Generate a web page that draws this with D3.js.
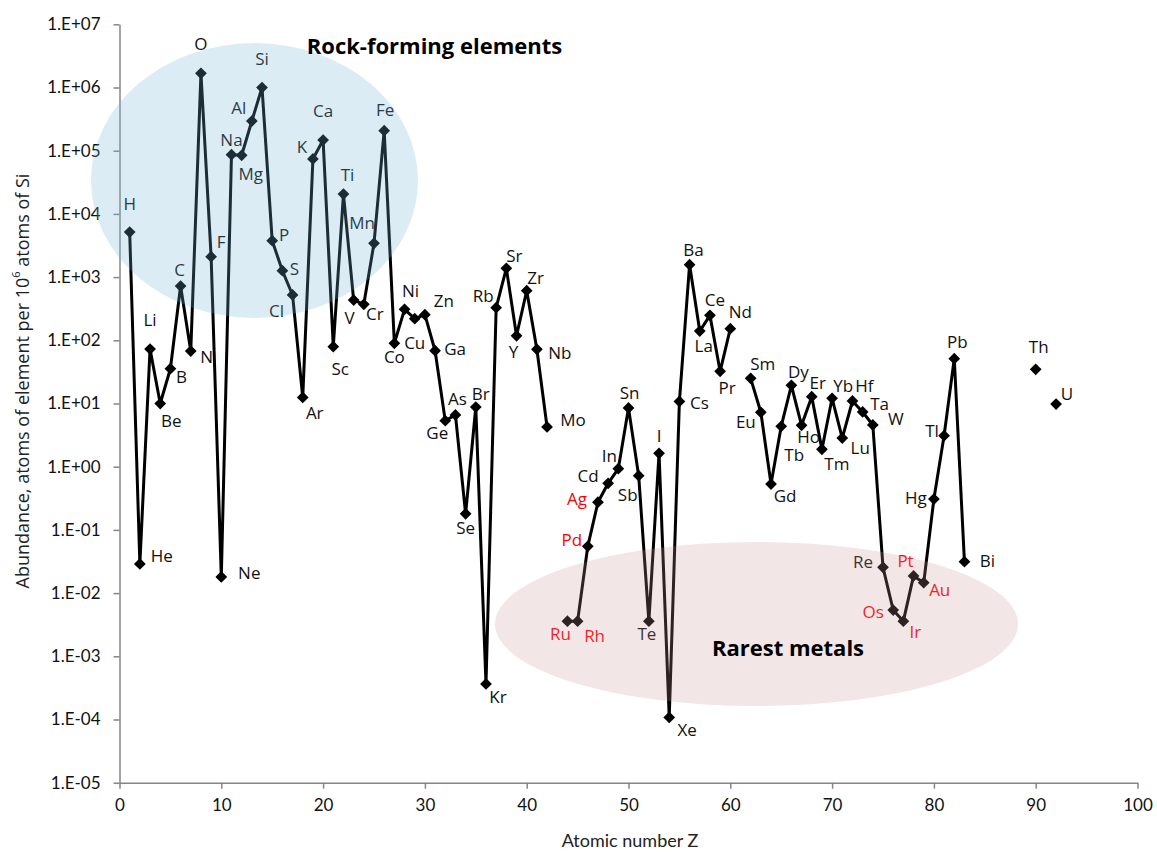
<!DOCTYPE html>
<html>
<head>
<meta charset="utf-8">
<script src="https://cdn.jsdelivr.net/npm/d3@7"></script>
<style>
  html, body { margin: 0; padding: 0; background: #fff; }
  svg { display: block; }
</style>
</head>
<body>
<svg id="chart" width="1157" height="852"></svg>
<script>
// Abundance of the elements in the upper continental crust, atoms per 10^6 atoms of Si
const atomicNumber = [
  1, 2, 3, 4, 5, 6, 7, 8, 9, 10,
  11, 12, 13, 14, 15, 16, 17, 18, 19, 20,
  21, 22, 23, 24, 25, 26, 27, 28, 29, 30,
  31, 32, 33, 34, 35, 36, 37, 38, 39, 40,
  41, 42, 44, 45, 46, 47, 48, 49, 50,
  51, 52, 53, 54, 55, 56, 57, 58, 59, 60,
  62, 63, 64, 65, 66, 67, 68, 69, 70,
  71, 72, 73, 74, 75, 76, 77, 78, 79, 80,
  81, 82, 83, 90, 92
];
const symbol = [
  "H", "He", "Li", "Be", "B", "C", "N", "O", "F", "Ne",
  "Na", "Mg", "Al", "Si", "P", "S", "Cl", "Ar", "K", "Ca",
  "Sc", "Ti", "V", "Cr", "Mn", "Fe", "Co", "Ni", "Cu", "Zn",
  "Ga", "Ge", "As", "Se", "Br", "Kr", "Rb", "Sr", "Y", "Zr",
  "Nb", "Mo", "Ru", "Rh", "Pd", "Ag", "Cd", "In", "Sn",
  "Sb", "Te", "I", "Xe", "Cs", "Ba", "La", "Ce", "Pr", "Nd",
  "Sm", "Eu", "Gd", "Tb", "Dy", "Ho", "Er", "Tm", "Yb",
  "Lu", "Hf", "Ta", "W", "Re", "Os", "Ir", "Pt", "Au", "Hg",
  "Tl", "Pb", "Bi", "Th", "U"
];
const abundance = [
  5170, 0.029, 72.8, 10.0, 35.5, 722, 67.7, 1.68e6, 2100, 0.018,
  86500, 84600, 295000, 1.0e6, 3770, 1262, 521, 12.5, 74000, 147600,
  79.2, 20600, 434, 371, 3430, 207000, 89.6, 309, 220, 254,
  68.4, 5.35, 6.58, 0.18, 8.8, 3.65e-4, 328, 1377, 118, 609,
  72, 4.25, 0.0036, 0.0036, 0.055, 0.274, 0.546, 0.93, 8.5,
  0.72, 0.0036, 1.63, 1.08e-4, 10.8, 1570, 140, 248, 32.3, 153,
  25, 7.26, 0.532, 4.36, 19.4, 4.52, 12.8, 1.88, 12.1,
  2.84, 10.96, 7.34, 4.57, 0.0256, 0.0054, 0.0036, 0.0187, 0.0146, 0.308,
  3.09, 51.2, 0.0314, 34.8, 9.8
];

// Elements whose labels are highlighted as the rarest metals
const preciousMetals = ["Ru", "Rh", "Pd", "Ag", "Os", "Ir", "Pt", "Au"];

const xTicks = [0, 10, 20, 30, 40, 50, 60, 70, 80, 90, 100];
const yTicks = [1e-5, 1e-4, 1e-3, 1e-2, 1e-1, 1e0, 1e1, 1e2, 1e3, 1e4, 1e5, 1e6, 1e7];

// Label placement: offset of the label centre from its marker, in pixels
const labelOffset = {
  H: [0, -29], He: [22, -8], Li: [0, -30], Be: [11, 17], B: [11, 8],
  C: [-1, -17], N: [16, 5], O: [0, -30], F: [10, -15], Ne: [28, -4],
  Na: [0, -15], Mg: [9, 18], Al: [-13, -14], Si: [0, -29], P: [12, -6],
  S: [12, -2], Cl: [-16, 16], Ar: [12, 15], K: [-11, -12], Ca: [0, -30],
  Sc: [7, 22], Ti: [4, -20], V: [-4, 17], Cr: [11, 9], Mn: [-12, -21],
  Fe: [1, -21], Co: [0, 13], Ni: [6, -19], Cu: [0, 24], Zn: [19, -14],
  Ga: [20, -2], Ge: [-8, 12], As: [2, -16], Se: [0, 14], Br: [5, -14],
  Kr: [12, 13], Rb: [-13, -12], Sr: [8, -13], Y: [-3, 16], Zr: [9, -13],
  Nb: [23, 3], Mo: [26, -7], Ru: [-7, 12], Rh: [17, 14], Pd: [-16, -7],
  Ag: [-21, -4], Cd: [-20, -8], In: [-9, -13], Sn: [1, -15], Sb: [-11, 19],
  Te: [-2, 12], I: [0, -18], Xe: [18, 12], Cs: [20, 1], Ba: [4, -15],
  La: [4, 14], Ce: [5, -16], Pr: [7, 16], Nd: [10, -17], Sm: [12, -15],
  Eu: [-15, 9], Gd: [14, 11], Tb: [13, 28], Dy: [7, -14], Ho: [7, 11],
  Er: [6, -14], Tm: [15, 14], Yb: [11, -13], Lu: [18, 9], Hf: [12, -15],
  Ta: [17, -8], W: [23, -6], Re: [-20, -6], Os: [-20, 1], Ir: [12, 10],
  Pt: [-8, -15], Au: [16, 7], Hg: [-18, -2], Tl: [-12, -5], Pb: [3, -17],
  Bi: [23, -1], Th: [3, -23], U: [11, -11]
};

const elements = atomicNumber.map((z, i) => ({ z, sym: symbol[i], v: abundance[i] }));

const svg = d3.select("#chart");
const W = 1157, H = 852;
const margin = { left: 119.5, right: W - 1137.5, top: 24.3, bottom: H - 782.7 };

const x = d3.scaleLinear().domain([0, 100]).range([margin.left, W - margin.right]);
const y = d3.scaleLog().domain([1e-5, 1e7]).range([H - margin.bottom, margin.top]);

const axisColor = "#868686";
const tickFont = "Lato, 'Open Sans', sans-serif";
const labelFont = "'Open Sans', 'Noto Sans', sans-serif";

// Axes
const yAxis = d3.axisLeft(y)
  .tickValues(yTicks)
  .tickSize(6)
  .tickSizeOuter(0)
  .tickFormat(d => {
    const e = Math.round(Math.log10(d));
    return "1.E" + (e < 0 ? "-" : "+") + String(Math.abs(e)).padStart(2, "0");
  });
const gy = svg.append("g").attr("transform", `translate(${margin.left},0)`).call(yAxis);

const xAxis = d3.axisBottom(x).tickValues(xTicks).tickSize(6).tickSizeOuter(0).tickFormat(d3.format("d"));
const gx = svg.append("g").attr("transform", `translate(0,${H - margin.bottom})`).call(xAxis);

[gx, gy].forEach(g => {
  g.select(".domain").attr("stroke", axisColor).attr("stroke-width", 1.5);
  g.selectAll(".tick line").attr("stroke", axisColor).attr("stroke-width", 1.5);
  g.selectAll(".tick text")
    .attr("fill", "#111")
    .style("font-family", tickFont)
    .style("font-size", "17px");
});
gy.selectAll(".tick text").attr("x", -19);
gx.selectAll(".tick text").attr("y", 16);

// Axis titles
svg.append("text")
  .attr("x", 630)
  .attr("y", 840)
  .attr("text-anchor", "middle")
  .attr("dominant-baseline", "central")
  .style("font-family", tickFont)
  .style("font-size", "18px")
  .attr("fill", "#222")
  .text("Atomic number Z");

const yTitle = svg.append("text")
  .attr("transform", "translate(22,381) rotate(-90)")
  .attr("text-anchor", "middle")
  .attr("dominant-baseline", "central")
  .style("font-family", labelFont)
  .style("font-size", "18px")
  .attr("fill", "#222");
yTitle.append("tspan").text("Abundance, atoms of element per 10");
yTitle.append("tspan").attr("dy", -7).style("font-size", "11px").text("6");
yTitle.append("tspan").attr("dy", 7).text(" atoms of Si");

// Split the series into runs of consecutive atomic numbers (gaps at Tc, Pm and after Bi)
const runs = [];
elements.forEach((d, i) => {
  if (i === 0 || d.z !== elements[i - 1].z + 1) runs.push([]);
  runs[runs.length - 1].push(d);
});

const line = d3.line().x(d => x(d.z)).y(d => y(d.v));
const plot = svg.append("g");
plot.selectAll("path.run")
  .data(runs.filter(r => r.length > 1))
  .join("path")
  .attr("class", "run")
  .attr("d", line)
  .attr("fill", "none")
  .attr("stroke", "#000")
  .attr("stroke-width", 3)
  .attr("stroke-linejoin", "round");

const diamond = d3.symbol().type(d3.symbolDiamond2).size(88);
plot.selectAll("path.marker")
  .data(elements)
  .join("path")
  .attr("class", "marker")
  .attr("transform", d => `translate(${x(d.z)},${y(d.v)})`)
  .attr("d", diamond)
  .attr("fill", "#000");

// Element labels
plot.selectAll("text.sym")
  .data(elements)
  .join("text")
  .attr("class", "sym")
  .attr("x", d => x(d.z) + labelOffset[d.sym][0])
  .attr("y", d => y(d.v) + labelOffset[d.sym][1])
  .attr("text-anchor", "middle")
  .attr("dominant-baseline", "central")
  .style("font-family", labelFont)
  .style("font-size", "17px")
  .attr("fill", d => preciousMetals.includes(d.sym) ? "#ff0000" : "#111")
  .text(d => d.sym);

// Highlight regions, translucent over the data
svg.append("ellipse")
  .attr("cx", 254.5).attr("cy", 180.5).attr("rx", 163.5).attr("ry", 137.5)
  .attr("fill", "#70b4d8").attr("fill-opacity", 0.25);
svg.append("ellipse")
  .attr("cx", 756.5).attr("cy", 624).attr("rx", 261.5).attr("ry", 82)
  .attr("fill", "#c89494").attr("fill-opacity", 0.23);

svg.append("text")
  .attr("x", 434.5).attr("y", 45)
  .attr("text-anchor", "middle").attr("dominant-baseline", "central")
  .style("font-family", labelFont).style("font-weight", "bold").style("font-size", "22px")
  .attr("fill", "#000")
  .text("Rock-forming elements");
svg.append("text")
  .attr("x", 788).attr("y", 647)
  .attr("text-anchor", "middle").attr("dominant-baseline", "central")
  .style("font-family", labelFont).style("font-weight", "bold").style("font-size", "22px")
  .attr("fill", "#000")
  .text("Rarest metals");
</script>
</body>
</html>
